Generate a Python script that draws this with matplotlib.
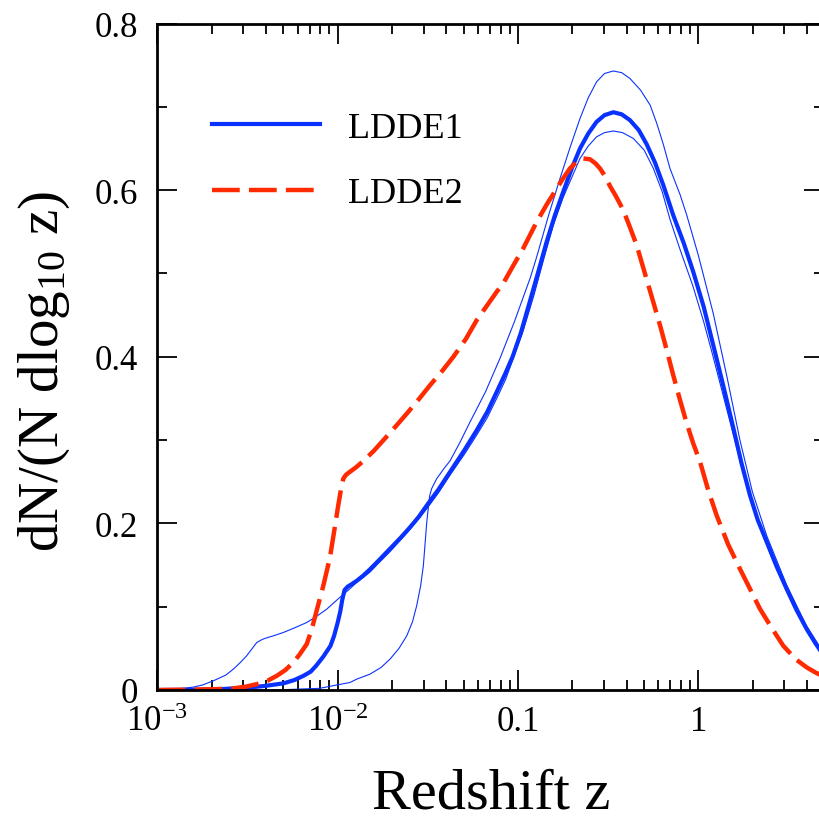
import matplotlib
matplotlib.use("Agg")
import matplotlib.pyplot as plt
import numpy as np
from matplotlib.ticker import FixedLocator, LogLocator, MultipleLocator, NullFormatter

plt.rcParams['font.family'] = ['Liberation Serif', 'DejaVu Serif']
plt.rcParams['mathtext.fontset'] = 'custom'
plt.rcParams['mathtext.rm'] = 'Liberation Serif'
plt.rcParams['mathtext.it'] = 'Liberation Serif:italic'
plt.rcParams['mathtext.bf'] = 'Liberation Serif:bold'
plt.rcParams['lines.scale_dashes'] = False

# ---- data (log10 z, dN/(N dlog10 z)) ----
ldde1_logz = [-3.0, -2.8, -2.67, -2.49, -2.40, -2.30, -2.24, -2.19, -2.15, -2.12, -2.08, -2.04,
              -2.02, -2.00, -1.985, -1.975, -1.962, -1.945, -1.93, -1.895, -1.86, -1.82, -1.77,
              -1.71, -1.65, -1.60, -1.55, -1.506, -1.44, -1.377, -1.30, -1.229, -1.17, -1.118,
              -1.07, -1.03, -0.985, -0.94, -0.89, -0.841, -0.795, -0.749, -0.70, -0.656, -0.61,
              -0.564, -0.52, -0.471, -0.425, -0.379, -0.33, -0.286, -0.24, -0.194, -0.139,
              -0.08, -0.028, 0.03, 0.083, 0.14, 0.195, 0.24, 0.287, 0.33, 0.38, 0.435, 0.49,
              0.545, 0.601, 0.65, 0.70]
ldde1_y = [0.000, 0.0003, 0.0008, 0.003, 0.005, 0.008, 0.012, 0.017, 0.022, 0.029, 0.040, 0.053,
           0.065, 0.081, 0.095, 0.108, 0.120, 0.124, 0.126, 0.131, 0.137, 0.145, 0.156,
           0.1695, 0.183, 0.195, 0.208, 0.2215, 0.241, 0.2617, 0.287, 0.3117, 0.334, 0.3578,
           0.380, 0.400, 0.428, 0.462, 0.500, 0.538, 0.570, 0.598, 0.627, 0.650, 0.668,
           0.682, 0.690, 0.6935, 0.691, 0.684, 0.672, 0.655, 0.633, 0.606, 0.570,
           0.536, 0.502, 0.460, 0.414, 0.364, 0.314, 0.272, 0.2335, 0.204, 0.1775, 0.148, 0.1214,
           0.096, 0.0733, 0.056, 0.040]

ldde1_hi_logz = [-3.0, -2.5, -2.30, -2.10, -2.006, -1.932, -1.895, -1.821, -1.76, -1.71, -1.66,
                 -1.617, -1.585, -1.562, -1.54, -1.525, -1.506, -1.49, -1.479, -1.451, -1.41,
                 -1.377, -1.32, -1.266, -1.18, -1.10, -1.02, -0.96, -0.933, -0.896, -0.83, -0.767,
                 -0.71, -0.656, -0.61, -0.564, -0.52, -0.471, -0.425, -0.379, -0.32, -0.267,
                 -0.23, -0.194, -0.157, -0.10, -0.064, 0.0, 0.083, 0.16, 0.231, 0.30, 0.38,
                 0.49, 0.60, 0.70]
ldde1_hi_y = [0.0, 0.0002, 0.0004, 0.002, 0.006, 0.009, 0.013, 0.019, 0.027, 0.037, 0.050,
              0.065, 0.082, 0.101, 0.125, 0.149, 0.2015, 0.233, 0.2416, 0.2536, 0.266,
              0.275, 0.298, 0.3217, 0.358, 0.398, 0.442, 0.478, 0.494, 0.520, 0.570, 0.614,
              0.652, 0.686, 0.711, 0.730, 0.740, 0.743, 0.741, 0.734, 0.720, 0.702,
              0.680, 0.655, 0.626, 0.594, 0.570, 0.522, 0.452, 0.375, 0.300, 0.238, 0.185,
              0.126, 0.077, 0.043]

ldde1_lo_logz = [-3.0, -2.93, -2.856, -2.80, -2.75, -2.69, -2.62, -2.579, -2.54, -2.505, -2.47,
                 -2.449, -2.42, -2.403, -2.35, -2.302, -2.24, -2.172, -2.12, -2.061, -2.02,
                 -1.978, -1.935, -1.895, -1.821, -1.77, -1.71, -1.61, -1.506, -1.44, -1.377,
                 -1.30, -1.229, -1.17, -1.118, -1.07, -1.026, -0.97, -0.91, -0.86, -0.804,
                 -0.75, -0.70, -0.656, -0.61, -0.564, -0.52, -0.471, -0.42, -0.360, -0.30,
                 -0.249, -0.20, -0.157, -0.10, -0.03, 0.03, 0.08, 0.14, 0.20, 0.25, 0.30,
                 0.35, 0.40, 0.45, 0.50, 0.55, 0.60, 0.65, 0.70]
ldde1_lo_y = [0.0, 0.0008, 0.002, 0.0035, 0.006, 0.011, 0.018, 0.025, 0.033, 0.041, 0.051,
              0.057, 0.0605, 0.062, 0.0655, 0.069, 0.0745, 0.081, 0.088, 0.097, 0.105,
              0.113, 0.121, 0.129, 0.1415, 0.153, 0.166, 0.190, 0.2175, 0.237, 0.258,
              0.282, 0.306, 0.327, 0.350, 0.372, 0.398, 0.432, 0.475, 0.515, 0.558,
              0.591, 0.616, 0.638, 0.653, 0.664, 0.669, 0.671, 0.669, 0.662, 0.648,
              0.626, 0.598, 0.565, 0.528, 0.485, 0.442, 0.402, 0.352, 0.302, 0.260, 0.223,
              0.192, 0.163, 0.138, 0.114, 0.092, 0.071, 0.055, 0.039]

ldde2_logz = [-3.0, -2.8, -2.68, -2.579, -2.51, -2.449, -2.39, -2.338, -2.29, -2.246, -2.21,
              -2.172, -2.145, -2.117, -2.080, -2.043, -2.02, -1.997, -1.98, -1.969, -1.955,
              -1.941, -1.90, -1.858, -1.80, -1.747, -1.68, -1.617, -1.55, -1.488, -1.42,
              -1.359, -1.29, -1.229, -1.17, -1.118, -1.082, -1.03, -0.971, -0.896, -0.84,
              -0.785, -0.75, -0.712, -0.675, -0.638, -0.60, -0.57, -0.545, -0.515, -0.490,
              -0.455, -0.416, -0.38, -0.342, -0.30, -0.250, -0.21, -0.175, -0.139, -0.10,
              -0.064, -0.028, 0.010, 0.055, 0.102, 0.165, 0.231, 0.29, 0.342, 0.40, 0.471,
              0.54, 0.601, 0.65, 0.70]
ldde2_y = [0.0, 0.0005, 0.001, 0.002, 0.004, 0.007, 0.011, 0.017, 0.024, 0.033, 0.043,
           0.055, 0.072, 0.095, 0.125, 0.159, 0.19, 0.2215, 0.243, 0.2536, 0.258,
           0.2605, 0.267, 0.2747, 0.287, 0.2997, 0.316, 0.3317, 0.349, 0.3658, 0.383,
           0.3998, 0.421, 0.4439, 0.462, 0.478, 0.488, 0.508, 0.530, 0.562, 0.583,
           0.602, 0.614, 0.626, 0.634, 0.638, 0.637, 0.632, 0.626, 0.616, 0.605,
           0.592, 0.576, 0.556, 0.534, 0.503, 0.466, 0.436, 0.408, 0.378, 0.347,
           0.320, 0.296, 0.2737, 0.240, 0.2095, 0.175, 0.1454, 0.120, 0.0974, 0.077, 0.0532,
           0.037, 0.0272, 0.021, 0.016]

labels = ["LDDE1", "LDDE2"]
xtick_vals = [1e-3, 1e-2, 0.1, 1]
xtick_labels = [r"$10^{-3}$", r"$10^{-2}$", "0.1", "1"]
ytick_vals = [0, 0.2, 0.4, 0.6, 0.8]
ytick_labels = ["0", "0.2", "0.4", "0.6", "0.8"]

blue = "#0a32ff"
red = "#ff2a00"

fig = plt.figure(figsize=(8.2, 8.2), dpi=100)
ax = fig.add_axes([157.4 / 820, 129 / 820, 666.9 / 820, 666.5 / 820])

z = lambda a: 10 ** np.asarray(a)
ax.plot(z(ldde1_hi_logz), ldde1_hi_y, color=blue, lw=0.8, solid_joinstyle='round')
ax.plot(z(ldde1_lo_logz), ldde1_lo_y, color=blue, lw=0.8, solid_joinstyle='round')
ax.plot(z(ldde1_logz), ldde1_y, color=blue, lw=3.0, label=labels[0], solid_joinstyle='round')
ax.plot(z(ldde2_logz), ldde2_y, color=red, lw=3.2, label=labels[1],
        dashes=(20, 6.6), dash_capstyle='butt')

ax.set_xscale('log')
ax.set_xlim(1e-3, 5)
ax.set_ylim(0, 0.8)

ax.xaxis.set_major_locator(FixedLocator(xtick_vals))
ax.set_xticklabels(xtick_labels)
ax.xaxis.set_minor_locator(LogLocator(base=10, subs=np.arange(2, 10)))
ax.xaxis.set_minor_formatter(NullFormatter())
ax.set_yticks(ytick_vals)
ax.set_yticklabels(ytick_labels)
ax.yaxis.set_minor_locator(MultipleLocator(0.1))

ax.tick_params(which='both', direction='in', top=True, right=True, width=1.3, labelsize=25)
ax.tick_params(which='major', length=14.5)
ax.tick_params(axis='x', which='major', pad=11)
ax.tick_params(axis='y', which='major', pad=14)
ax.tick_params(which='minor', length=7.2)
for s in ax.spines.values():
    s.set_linewidth(2.0)

ax.set_xlabel("Redshift z", fontsize=42)
ax.xaxis.set_label_coords(0.5, -0.116, transform=ax.transAxes)
ax.set_ylabel(r"dN/(N dlog$_{10}$ z)", fontsize=41)
ax.yaxis.set_label_coords(-0.128, 0.48)

leg = ax.legend(loc='upper left', bbox_to_anchor=(0.082, 0.868), frameon=False,
                fontsize=26, handlelength=3.0, handletextpad=0.75, labelspacing=0.89,
                borderpad=0, borderaxespad=0)

fig.savefig("out.png", dpi=100)
